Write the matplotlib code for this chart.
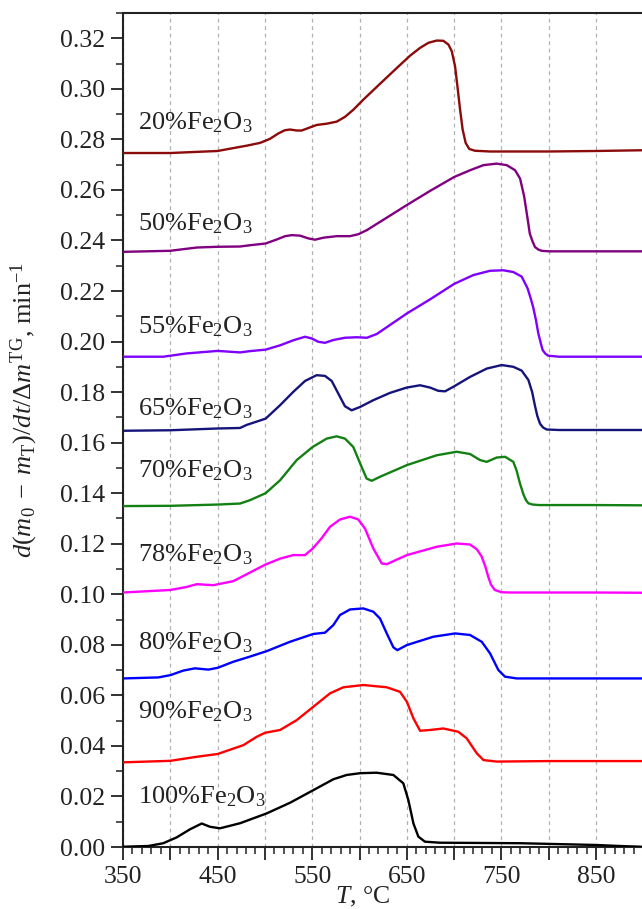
import matplotlib
matplotlib.use("Agg")
import matplotlib.pyplot as plt
from matplotlib.ticker import MultipleLocator, FuncFormatter

plt.rcParams['font.family'] = ['Liberation Serif', 'DejaVu Serif']
plt.rcParams['mathtext.fontset'] = 'custom'
plt.rcParams['mathtext.rm'] = 'Liberation Serif'
plt.rcParams['mathtext.it'] = 'Liberation Serif:italic'
plt.rcParams['mathtext.bf'] = 'Liberation Serif:bold'

# ---------------- data ----------------
labels = ["20%Fe$_2$O$_3$", "50%Fe$_2$O$_3$", "55%Fe$_2$O$_3$", "65%Fe$_2$O$_3$",
          "70%Fe$_2$O$_3$", "78%Fe$_2$O$_3$", "80%Fe$_2$O$_3$", "90%Fe$_2$O$_3$",
          "100%Fe$_2$O$_3$"]
colors = ["#8b0a0a", "#800080", "#8000ff", "#14147a", "#138013",
          "#ff00ff", "#0000ff", "#ff0000", "#000000"]
label_y = [0.2865, 0.2468, 0.2060, 0.1736, 0.1490, 0.1155, 0.0810, 0.0534, 0.0198]

T20 = [350, 400, 450, 463, 480.7, 494.8, 505.3, 514, 521, 526.5, 533.6, 538.9, 546, 554.7,
       565.3, 575.8, 584.6, 593.4, 604, 621.7, 639.3, 653.4, 664, 672.8, 681.6, 688.6,
       694, 697.5, 701, 703.5, 706.3, 709, 712.2, 716, 722, 738, 800, 850, 900]
y20 = [0.2746, 0.2746, 0.2754, 0.2763, 0.2775, 0.2786, 0.2802, 0.2823, 0.2836, 0.2839,
       0.2835, 0.2835, 0.2845, 0.2857, 0.2862, 0.2870, 0.2889, 0.2917, 0.2957, 0.3020,
       0.3082, 0.3131, 0.3162, 0.3182, 0.3191, 0.3190, 0.3175, 0.3149, 0.3089, 0.3010,
       0.2918, 0.2839, 0.2786, 0.2762, 0.2755, 0.2752, 0.2752, 0.2754, 0.2757]

T50 = [350, 399.7, 427.9, 450, 473.7, 484, 500.8, 512.6, 521.4, 528.4, 537.2, 546, 553,
       561.9, 576, 590, 599, 607.8, 621.9, 650, 675, 700, 717, 731, 745, 755.6, 764.4,
       769.7, 774, 777.5, 780, 783, 785.5, 789, 792.6, 800, 850, 900]
y50 = [0.2355, 0.2359, 0.2372, 0.2375, 0.2376, 0.2381, 0.2388, 0.2404, 0.2417, 0.2421,
       0.2419, 0.2408, 0.2403, 0.2411, 0.2417, 0.2417, 0.2425, 0.2441, 0.2474, 0.2540,
       0.2597, 0.2651, 0.2678, 0.2698, 0.2704, 0.2698, 0.2678, 0.2645, 0.2575, 0.2490,
       0.2427, 0.2395, 0.2374, 0.2364, 0.2359, 0.2357, 0.2357, 0.2357]

T55 = [350, 392.6, 417.3, 450, 473.7, 484, 500.8, 516, 530, 542.4, 549.5, 556.5, 563.5,
       572.3, 584.6, 597, 607.8, 618.3, 632.4, 650, 675, 700, 720.3, 738, 752, 762.6,
       771.4, 777.7, 781, 783.5, 786.5, 789, 791.5, 793.6, 796.5, 799.5, 811, 850, 900]
y55 = [0.1940, 0.1940, 0.1953, 0.1963, 0.1957, 0.1962, 0.1968, 0.1985, 0.2005, 0.2019,
       0.2012, 0.1999, 0.1995, 0.2006, 0.2015, 0.2017, 0.2015, 0.2030, 0.2066, 0.2111,
       0.2168, 0.2228, 0.2263, 0.2280, 0.2282, 0.2275, 0.2257, 0.2210, 0.2170, 0.2137,
       0.2085, 0.2032, 0.1995, 0.1966, 0.1952, 0.1944, 0.1940, 0.1940, 0.1940]

T65 = [350, 400, 450, 473.7, 480.6, 500.8, 516, 530, 542.4, 554.7, 563.5, 570.6, 577.6,
       584.6, 591.7, 600.5, 614.6, 632.3, 650, 664, 674.5, 683.3, 690.4, 699.2, 716.8,
       734.5, 750.3, 762.6, 771.4, 778.5, 782.5, 785.5, 788, 790.8, 794, 797.8, 811, 850,
       900]
y65 = [0.1647, 0.1649, 0.1656, 0.1658, 0.1670, 0.1695, 0.1748, 0.1801, 0.1844, 0.1867,
       0.1864, 0.1844, 0.1794, 0.1744, 0.1728, 0.1741, 0.1768, 0.1797, 0.1818, 0.1827,
       0.1818, 0.1805, 0.1803, 0.1821, 0.1860, 0.1893, 0.1907, 0.1900, 0.1885, 0.1848,
       0.1800, 0.1745, 0.1705, 0.1675, 0.1660, 0.1652, 0.1650, 0.1650, 0.1650]

T70 = [350, 400, 450, 473.7, 484, 500.8, 516, 533.6, 550.5, 565.3, 575.8, 584.6, 593.4,
       602.2, 607.5, 612.9, 621.7, 650, 681.6, 702.7, 716.8, 727.4, 734.5, 745, 753.9,
       762.6, 766, 769.5, 773.3, 776, 778.5, 783, 790, 850, 900]
y70 = [0.1349, 0.1350, 0.1355, 0.1359, 0.1372, 0.1400, 0.1451, 0.1531, 0.1583, 0.1616,
       0.1625, 0.1616, 0.1583, 0.1504, 0.1458, 0.1449, 0.1465, 0.1511, 0.1550, 0.1564,
       0.1555, 0.1531, 0.1524, 0.1541, 0.1544, 0.1524, 0.1490, 0.1440, 0.1395, 0.1372,
       0.1360, 0.1355, 0.1353, 0.1353, 0.1352]

T78 = [350, 400, 417.3, 428, 445.5, 466.6, 500.8, 516, 530, 542.4, 550.5, 560, 568.8,
       579.4, 590, 598.7, 605.8, 614.6, 623.5, 628.8, 639.3, 650, 681.6, 702.7, 716.8,
       724, 729, 733, 736, 739, 743, 750, 760, 850, 900]
y78 = [0.1007, 0.1017, 0.1029, 0.1040, 0.1036, 0.1052, 0.1118, 0.1141, 0.1155, 0.1155,
       0.1181, 0.1222, 0.1267, 0.1296, 0.1307, 0.1296, 0.1260, 0.1181, 0.1122, 0.1119,
       0.1137, 0.1155, 0.1188, 0.1201, 0.1197, 0.1178, 0.1150, 0.1110, 0.1070, 0.1038,
       0.1017, 0.1008, 0.1007, 0.1007, 0.1006]

T80 = [350, 387.3, 400, 413.7, 426, 440.2, 450, 466.6, 483, 501.9, 526.5, 551.2, 563.5,
       572.3, 579.4, 590, 604, 614.6, 621.7, 628.8, 635.8, 640, 650, 678, 701, 716.8,
       729.2, 738, 746.8, 753.8, 766.2, 800, 850, 900]
y80 = [0.0667, 0.0671, 0.0680, 0.0698, 0.0707, 0.0702, 0.0709, 0.0733, 0.0752, 0.0775,
       0.0812, 0.0843, 0.0848, 0.0878, 0.0918, 0.0940, 0.0944, 0.0931, 0.0904, 0.0845,
       0.0790, 0.0779, 0.0799, 0.0832, 0.0845, 0.0839, 0.0812, 0.0766, 0.0700, 0.0674,
       0.0667, 0.0667, 0.0667, 0.0667]

T90 = [350, 400, 427.9, 450, 477.2, 491.3, 500.1, 516, 533.6, 551.2, 568.8, 582.9, 604,
       628.8, 642.8, 650, 657, 664, 674.5, 688.6, 704.4, 713.3, 723.9, 731, 745, 800, 900]
y90 = [0.0335, 0.0341, 0.0357, 0.0368, 0.0403, 0.0436, 0.0452, 0.0463, 0.0502, 0.0555,
       0.0608, 0.0632, 0.0641, 0.0632, 0.0614, 0.0575, 0.0509, 0.0460, 0.0463, 0.0469,
       0.0456, 0.0430, 0.0371, 0.0344, 0.0338, 0.0340, 0.0340]

T100 = [350, 376.8, 392.6, 406.7, 420.8, 433.2, 442, 452.5, 473.7, 501.9, 526.5, 551.2,
        572.3, 586.4, 600.5, 618, 635.8, 646.3, 651.6, 657, 662.2, 669.2, 685, 769.7, 850,
        875, 898]
y100 = [0.0001, 0.0004, 0.0015, 0.0038, 0.0070, 0.0093, 0.0080, 0.0074, 0.0094, 0.0133,
        0.0175, 0.0225, 0.0268, 0.0285, 0.0292, 0.0294, 0.0285, 0.0252, 0.0186, 0.0093,
        0.0041, 0.0021, 0.0017, 0.0015, 0.0008, 0.0004, 0.0001]

series_T = [T20, T50, T55, T65, T70, T78, T80, T90, T100]
series_y = [y20, y50, y55, y65, y70, y78, y80, y90, y100]

x_label_ticks = [350, 450, 550, 650, 750, 850]

# ---------------- figure ----------------
fig = plt.figure(figsize=(6.42, 9.09), dpi=100)
ax = fig.add_axes([0.1916, 0.0682, 0.8084, 0.9175])

for T, y, c in zip(series_T, series_y, colors):
    ax.plot(T, y, color=c, lw=1.7, solid_joinstyle='round', solid_capstyle='round', zorder=3)

for lab, ly in zip(labels, label_y):
    ax.text(366, ly, lab, fontsize=19, va='center', ha='left', color='#222222', zorder=4)

ax.set_xlim(350, 898.6)
ax.set_ylim(0, 0.33)

ax.xaxis.set_major_locator(MultipleLocator(50))
ax.xaxis.set_minor_locator(MultipleLocator(10))
ax.xaxis.set_major_formatter(FuncFormatter(
    lambda v, p: f"{int(round(v))}" if int(round(v)) in x_label_ticks else ""))
ax.yaxis.set_major_locator(MultipleLocator(0.02))
ax.yaxis.set_minor_locator(MultipleLocator(0.01))
ax.yaxis.set_major_formatter(FuncFormatter(lambda v, p: f"{v:.2f}"))

ax.tick_params(which='major', direction='out', length=9, width=1.3, labelsize=18.5,
               colors='#222222', pad=5)
ax.tick_params(which='minor', direction='out', length=5, width=1.1, colors='#222222')
ax.tick_params(axis='y', which='major', pad=4)

ax.xaxis.grid(True, which='major', color='#b0b0b0', linestyle=(0, (3, 3)), lw=0.9, zorder=0)
ax.set_axisbelow(True)

for s in ['left', 'bottom', 'top']:
    ax.spines[s].set_linewidth(1.5)
    ax.spines[s].set_color('#222222')
ax.spines['right'].set_visible(False)

ax.set_xlabel(r"$T$, °C", fontsize=18.5, color='#222222')
ax.xaxis.set_label_coords(0.462, -0.045)

fig.text(24 / 642, 1 - 410 / 909,
         r"$d(m_0\;-\;m_\mathrm{T})/dt/\Delta m^\mathrm{TG}$, min$^{-1}$",
         rotation=90, ha='center', va='center', fontsize=19, color='#222222')

fig.savefig("out.png", dpi=100)
